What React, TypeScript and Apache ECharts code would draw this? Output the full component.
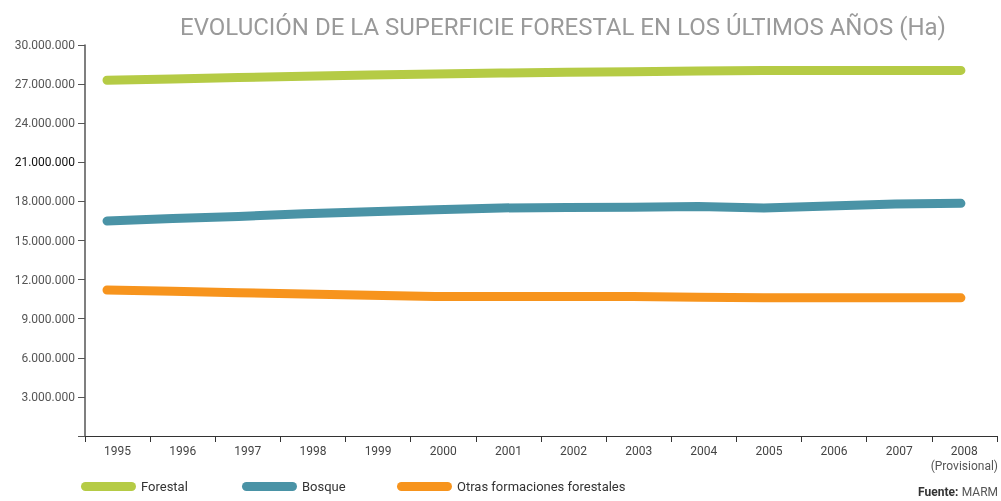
import React, { useEffect, useRef } from "react";
import * as echarts from "echarts";

const years = ["1995", "1996", "1997", "1998", "1999", "2000", "2001", "2002", "2003", "2004", "2005", "2006", "2007", "2008"];
const forestal = [27300000, 27400000, 27500000, 27600000, 27700000, 27780000, 27850000, 27900000, 27950000, 28000000, 28050000, 28050000, 28050000, 28050000];
const bosque = [16500000, 16680000, 16850000, 17050000, 17200000, 17350000, 17500000, 17530000, 17560000, 17600000, 17500000, 17650000, 17800000, 17850000];
const otras = [11200000, 11100000, 11000000, 10900000, 10800000, 10700000, 10700000, 10700000, 10700000, 10650000, 10600000, 10600000, 10600000, 10600000];
const seriesNames = ["Forestal", "Bosque", "Otras formaciones forestales"];
const seriesColors = ["#B5CB45", "#4A93A6", "#F7941D"];
const titleText = "EVOLUCIÓN DE LA SUPERFICIE FORESTAL EN LOS ÚLTIMOS AÑOS (Ha)";

function fmt(v: number): string {
  return String(Math.round(v)).replace(/\B(?=(\d{3})+(?!\d))/g, ".");
}

export default function App() {
  const ref = useRef<HTMLDivElement>(null);
  useEffect(() => {
    if (!ref.current) return;
    const chart = echarts.init(ref.current, null, { renderer: "svg" });
    const font = "Roboto";
    const legendIcon = "path://M4.5,0 H50.5 A4.5,4.5 0 0 1 50.5,9 H4.5 A4.5,4.5 0 0 1 4.5,0 Z";
    const legendLeft = [81, 242, 397];
    const dataSets = [forestal, bosque, otras];
    chart.setOption({
      animation: false,
      grid: { left: 85, right: 4, top: 45, bottom: 65 },
      title: {
        text: titleText,
        left: 558,
        textAlign: "center",
        top: 10,
        textStyle: { fontFamily: font, fontSize: 24, fontWeight: "normal", color: "#9a9a9a" },
      },
      legend: seriesNames.map((n, i) => ({
        data: [n],
        left: legendLeft[i],
        top: 480,
        padding: 0,
        icon: legendIcon,
        itemWidth: 55,
        itemHeight: 9,
        itemGap: 6,
        textStyle: { fontFamily: font, fontSize: 13, color: "#333" },
      })),
      xAxis: [
        {
          type: "category",
          data: years,
          boundaryGap: true,
          axisLine: { lineStyle: { color: "#333", width: 1 } },
          axisTick: { show: true, length: 6, interval: 0, lineStyle: { color: "#333" } },
          axisLabel: {
            interval: 0,
            margin: 7,
            fontFamily: font,
            fontSize: 12,
            color: "#444",
            formatter: (v: string) => (v === "2008" ? v + "\n{p|(Provisional)}" : v),
            rich: { p: { fontFamily: font, fontSize: 12, color: "#555" } },
            lineHeight: 15,
          },
          splitLine: { show: false },
        },
        {
          type: "value",
          show: false,
          min: -0.335,
          max: 13.548,
        },
      ],
      yAxis: {
        type: "value",
        min: 0,
        max: 30000000,
        interval: 3000000,
        axisLine: { show: true, onZero: false, lineStyle: { color: "#555", width: 1.5 } },
        axisTick: { show: true, length: 7, lineStyle: { color: "#555" } },
        splitLine: { show: false },
        axisLabel: {
          margin: 10,
          fontFamily: font,
          fontSize: 12,
          color: "#555",
          formatter: (v: number) => (v === 0 ? "" : v === 21000000 ? "{d|" + fmt(v) + "}" : fmt(v)),
          rich: { d: { fontFamily: font, fontSize: 12, color: "#111" } },
        },
      },
      graphic: [
        {
          type: "text",
          right: 3,
          top: 486,
          style: {
            text: "{b|Fuente:} {n|MARM}",
            rich: {
              b: { fontFamily: font, fontSize: 12, fontWeight: "bold", fill: "#333" },
              n: { fontFamily: font, fontSize: 12, fill: "#555" },
            },
          },
        },
      ],
      series: seriesNames.map((n, i) => ({
        name: n,
        type: "line",
        xAxisIndex: 1,
        data: dataSets[i].map((v, j) => [j, v]),
        symbol: "none",
        color: seriesColors[i],
        lineStyle: { width: 9, cap: "round", join: "round", color: seriesColors[i] },
      })),
    });
    return () => chart.dispose();
  }, []);
  return <div ref={ref} style={{ position: "fixed", left: 0, top: 0, width: 1001, height: 501 }} />;
}
